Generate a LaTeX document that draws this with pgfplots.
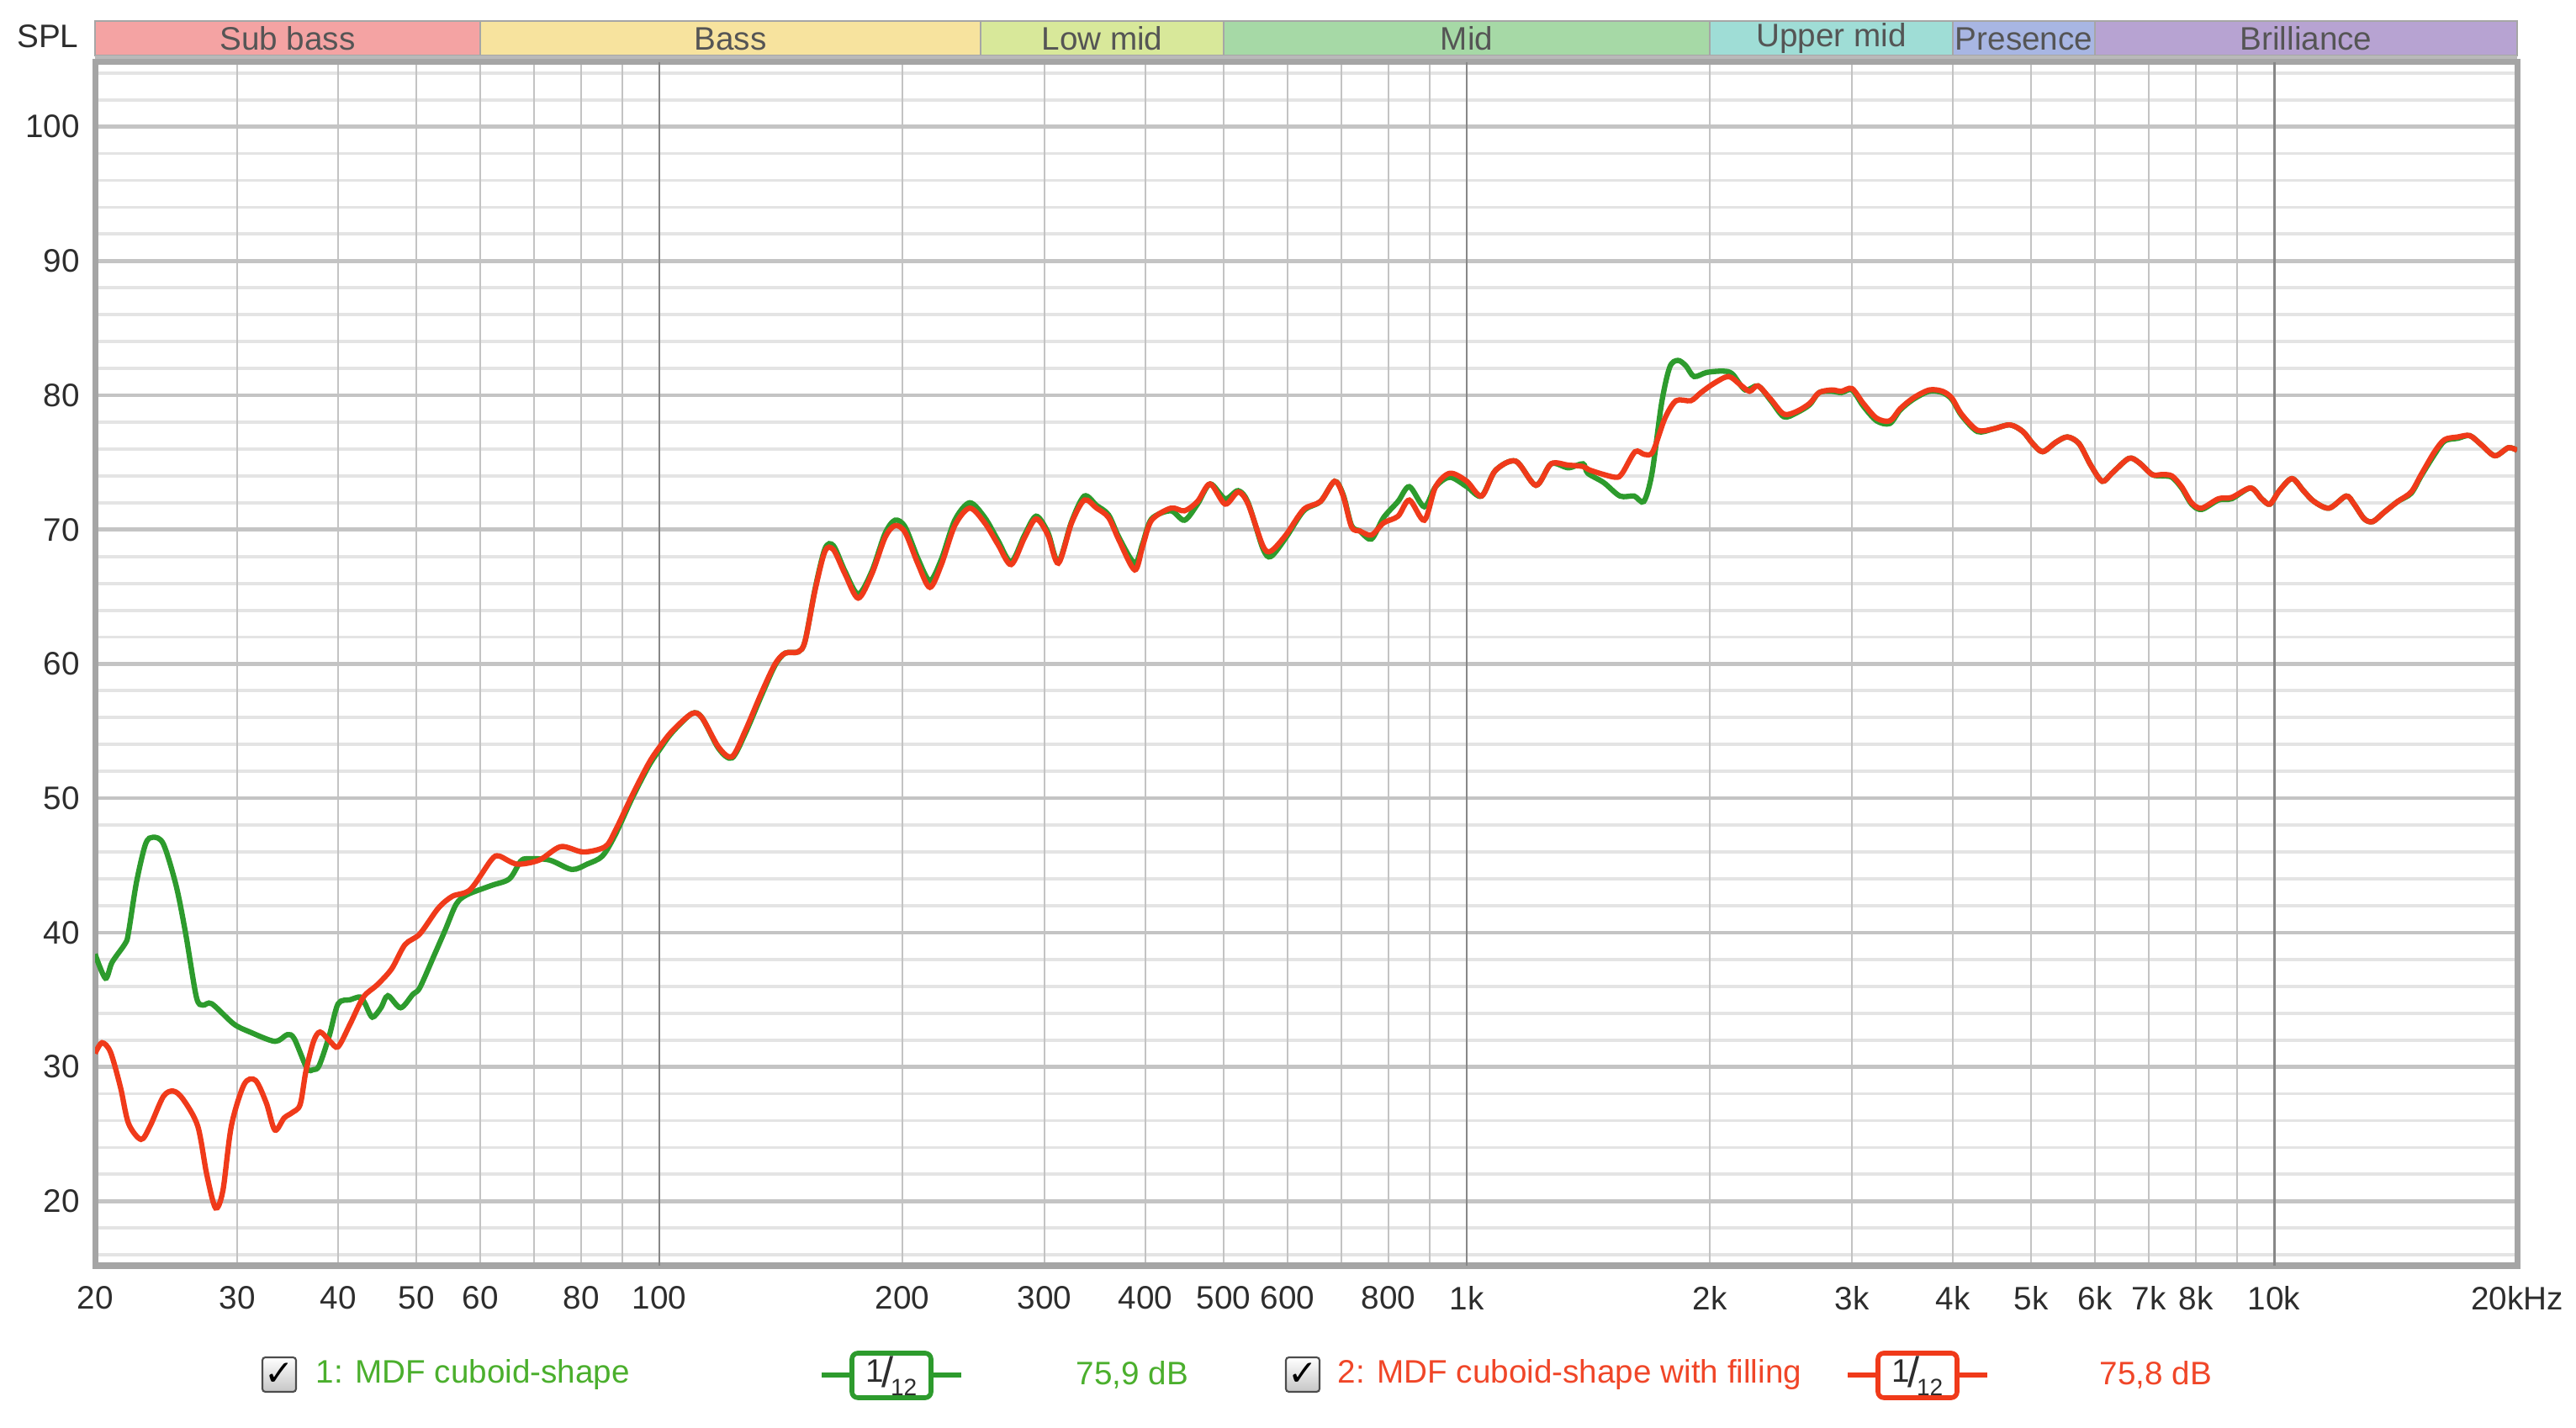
\documentclass[border=0pt]{standalone}
\usepackage{fontspec}
\setmainfont{Liberation Sans}
\newfontfamily\symfont{DejaVu Sans}
\usepackage{pgfplots}
\pgfplotsset{compat=1.18}

\definecolor{cgreen}{RGB}{45,155,45}
\definecolor{cred}{RGB}{240,58,26}
\definecolor{tgreen}{RGB}{75,175,45}
\definecolor{tred}{RGB}{240,70,40}
\definecolor{gridminh}{RGB}{228,228,228}
\definecolor{gridmajh}{RGB}{196,196,196}
\definecolor{gridv}{RGB}{195,195,195}
\definecolor{griddec}{RGB}{135,135,135}
\definecolor{frame}{RGB}{165,165,165}
\definecolor{txt}{RGB}{45,45,45}
\definecolor{bandtxt}{RGB}{85,85,85}
\definecolor{bSub}{RGB}{244,163,163}
\definecolor{bBass}{RGB}{247,227,158}
\definecolor{bLow}{RGB}{216,232,154}
\definecolor{bMid}{RGB}{166,217,166}
\definecolor{bUpper}{RGB}{159,221,214}
\definecolor{bPres}{RGB}{168,182,227}
\definecolor{bBril}{RGB}{183,163,210}

\begin{document}
\begin{tikzpicture}[x=1cm,y=1cm]
\useasboundingbox (0,0) rectangle (30.63,16.98);

% horizontal grid and dB labels
\begin{axis}[
  at={(1.13cm,1.93cm)}, anchor=south west,
  width=28.8cm, height=14.31cm, scale only axis,
  xmode=log, xmin=20, xmax=20000, ymin=15.2, ymax=104.8,
  major tick length=0pt, minor tick length=0pt,
  /pgf/number format/assume math mode=true,
  tick label style={font=\fontsize{11}{13}\selectfont, text=txt},
  xtick=\empty,
  ytick={20,30,40,50,60,70,80,90,100},
  minor ytick={16,18,22,24,26,28,32,34,36,38,42,44,46,48,52,54,56,58,62,64,66,68,72,74,76,78,82,84,86,88,92,94,96,98,102,104},
  ymajorgrids, yminorgrids,
  major grid style={draw=gridmajh, line width=1.3pt},
  minor grid style={draw=gridminh, line width=1.1pt},
  axis line style={draw=none},
  yticklabel style={anchor=east, xshift=-0.06cm},
]
\addplot[draw=none] coordinates {(20,50) (20000,50)};
\end{axis}

% vertical grid, frequency labels and curves
\begin{axis}[
  at={(1.13cm,1.93cm)}, anchor=south west,
  width=28.8cm, height=14.31cm, scale only axis,
  xmode=log, xmin=20, xmax=20000, ymin=15.2, ymax=104.8,
  major tick length=0pt, minor tick length=0pt,
  /pgf/number format/assume math mode=true,
  tick label style={font=\fontsize{11}{13}\selectfont, text=txt},
  ytick=\empty,
  xtick={20,30,40,50,60,70,80,90,200,300,400,500,600,700,800,900,2000,3000,4000,5000,6000,7000,8000,9000,20000},
  xticklabels={20,30,40,50,60,,80,,200,300,400,500,600,,800,,2k,3k,4k,5k,6k,7k,8k,,20kHz},
  extra x ticks={100,1000,10000},
  extra x tick labels={100,1k,10k},
  extra x tick style={major grid style={draw=griddec, line width=0.8pt}},
  xmajorgrids,
  major grid style={draw=gridv, line width=0.65pt},
  axis line style={draw=frame, line width=2pt},
  xticklabel style={yshift=-0.12cm},
]
% 1: MDF cuboid-shape
\addplot[cgreen, line width=1.8pt, smooth, tension=0.5] coordinates {
(20,38.4) (20.6,36.6) (21.0,37.8) (21.8,39.2) (22.0,40.0) (22.5,43.7) (23.1,46.6) (23.6,47.1)
(24.3,46.6) (25.2,43.5) (25.9,39.9) (26.7,35.2) (27.2,34.6) (27.9,34.7) (29.7,33.2) (31.1,32.6)
(33.4,31.9) (34.6,32.4) (35.3,32.1) (36.6,29.9) (37.3,29.8) (37.9,30.1) (39.0,32.3) (40.0,34.7)
(41.4,35.0) (42.6,35.2) (43.2,34.7) (44.1,33.7) (45.2,34.4) (46.1,35.3) (47.8,34.4) (49.5,35.4)
(50.5,35.9) (52.6,38.3) (54.3,40.2) (56.0,42.1) (57.7,42.8) (61.9,43.5) (65.2,44.0) (67.3,45.3)
(68.7,45.5) (73.1,45.4) (77.9,44.7) (81.4,45.1) (85,45.7) (88.2,47.3) (92.5,50.0) (97.0,52.4)
(100,53.6) (103.7,54.9) (109.7,56.3) (112.9,56.0) (118.4,53.7) (123,53.0) (127.7,54.8) (133.9,57.7)
(139.1,59.9) (143.1,60.8) (148.6,60.9) (151.5,61.7) (155.9,65.6) (160.4,68.6) (164.3,68.8) (169.8,66.9)
(176.3,65.2) (183.3,66.9) (190.3,69.7) (195.8,70.7) (201.5,70.2) (209.2,67.8) (216.3,66.2) (223.5,67.8)
(232.2,70.7) (242.3,72.0) (252.9,70.9) (262.6,69.2) (272.7,67.6) (283.3,69.6) (292.8,71.0) (302.8,69.8)
(312,67.6) (324,70.6) (336,72.5) (348,71.8) (360,71.1) (371,69.4) (388,67.5) (397,69.0)
(407,70.8) (430,71.4) (447,70.7) (464,71.9) (481,73.4) (502,72.3) (521,72.9) (536,72.0)
(559,68.6) (572,68.0) (597,69.4) (628,71.4) (659,72.1) (686,73.6) (703,72.6) (720,70.3)
(737,69.9) (762,69.3) (789,70.9) (822,72.1) (849,73.2) (886,71.7) (915,73.2) (953,73.9)
(1000,73.2) (1043,72.5) (1085,74.4) (1150,75.1) (1218,73.3) (1272,74.9) (1336,74.6) (1393,74.9)
(1412,74.2) (1478,73.5) (1548,72.5) (1612,72.5) (1657,72.1) (1696,74.2) (1743,79.4) (1784,82.1)
(1826,82.6) (1868,82.2) (1912,81.4) (1982,81.7) (2075,81.8) (2132,81.6) (2212,80.4) (2295,80.7)
(2380,79.6) (2470,78.4) (2562,78.7) (2659,79.3) (2731,80.2) (2832,80.3) (2910,80.2) (3000,80.4)
(3098,79.2) (3218,78.1) (3342,77.9) (3442,78.9) (3573,79.7) (3740,80.3) (3883,80.2) (3988,79.7)
(4100,78.5) (4291,77.3) (4490,77.5) (4707,77.8) (4885,77.3) (5024,76.4) (5168,75.8) (5365,76.5)
(5545,76.9) (5733,76.4) (5927,74.8) (6124,73.6) (6297,74.2) (6606,75.3) (6799,75.0) (7062,74.1)
(7262,74.0) (7470,73.9) (7682,73.1) (7902,71.9) (8131,71.5) (8531,72.2) (8860,72.3) (9349,73.1)
(9649,72.3) (9880,71.9) (10150,72.9) (10520,73.8) (10870,72.9) (11200,72.1) (11700,71.6) (12280,72.5)
(12560,71.9) (12930,70.8) (13250,70.6) (13690,71.3) (14230,72.1) (14780,72.7) (15210,74.0) (15800,75.6)
(16260,76.6) (16890,76.8) (17470,77.0) (18070,76.3) (18770,75.5) (19510,76.1) (20000,75.9)
};
% 2: MDF cuboid-shape with filling
\addplot[cred, line width=1.8pt, smooth, tension=0.5] coordinates {
(20,31.0) (20.4,31.8) (20.9,31.1) (21.5,28.5) (22.0,25.8) (22.8,24.6) (23.4,25.6) (24.3,27.8)
(25.0,28.2) (25.7,27.6) (26.8,25.6) (27.5,22.0) (28.2,19.5) (28.8,20.8) (29.5,25.6) (30.6,28.7)
(31.6,29.0) (32.6,27.3) (33.4,25.3) (34.3,26.2) (35.1,26.6) (35.9,27.2) (36.5,29.7) (37.3,31.9)
(38.0,32.6) (39.1,31.9) (40.0,31.5) (41.4,33.2) (43.0,35.2) (44.7,36.1) (46.6,37.3) (48.4,39.1)
(50.5,39.9) (53.2,41.8) (55.4,42.7) (58.3,43.2) (61.9,45.4) (63.3,45.7) (66.6,45.1) (71.0,45.4)
(75.5,46.4) (80.5,46.0) (85.7,46.4) (88.2,47.6) (92.5,50.2) (97.0,52.6) (100,53.8) (103.7,55.0)
(109.7,56.3) (112.9,56.0) (118.4,53.8) (123,53.1) (127.7,55.0) (133.9,57.9) (139.1,60.0) (143.1,60.8)
(148.6,60.9) (151.5,61.7) (155.9,65.5) (160.4,68.4) (164.3,68.5) (169.8,66.7) (176.3,64.9) (183.3,66.7)
(190.3,69.4) (195.8,70.3) (201.5,69.8) (209.2,67.4) (216.3,65.7) (223.5,67.4) (232.2,70.3) (242.3,71.6)
(252.9,70.5) (262.6,68.9) (272.7,67.4) (283.3,69.4) (292.8,70.8) (302.8,69.6) (312,67.5) (324,70.5)
(336,72.2) (348,71.6) (360,70.9) (371,69.2) (388,67.0) (397,68.8) (407,70.7) (430,71.6)
(447,71.4) (464,72.1) (481,73.4) (502,71.9) (521,72.8) (536,71.9) (559,68.8) (572,68.4)
(597,69.6) (628,71.5) (659,72.1) (686,73.6) (703,72.5) (720,70.2) (737,69.9) (762,69.6)
(789,70.5) (822,71.0) (849,72.2) (886,70.7) (915,73.2) (953,74.2) (1000,73.6) (1043,72.5)
(1085,74.4) (1150,75.1) (1218,73.3) (1272,74.9) (1336,74.8) (1393,74.7) (1425,74.4) (1526,73.9)
(1558,74.2) (1616,75.8) (1660,75.6) (1700,75.8) (1760,78.3) (1817,79.6) (1895,79.6) (1950,80.2)
(2025,80.9) (2110,81.4) (2180,80.8) (2240,80.3) (2295,80.7) (2380,79.7) (2470,78.6) (2562,78.8)
(2659,79.4) (2731,80.2) (2832,80.4) (2910,80.3) (3000,80.5) (3098,79.4) (3218,78.3) (3342,78.1)
(3442,79.0) (3573,79.8) (3740,80.4) (3883,80.3) (3988,79.8) (4100,78.6) (4291,77.4) (4490,77.5)
(4707,77.8) (4885,77.3) (5024,76.4) (5168,75.8) (5365,76.5) (5545,76.9) (5733,76.4) (5927,74.8)
(6124,73.6) (6297,74.2) (6606,75.3) (6799,75.0) (7062,74.1) (7262,74.1) (7470,74.0) (7682,73.2)
(7902,72.0) (8131,71.6) (8531,72.3) (8860,72.4) (9349,73.1) (9649,72.3) (9880,71.9) (10150,72.9)
(10520,73.8) (10870,72.9) (11200,72.1) (11700,71.6) (12280,72.5) (12560,71.9) (12930,70.8) (13250,70.6)
(13690,71.3) (14230,72.1) (14780,72.8) (15210,74.1) (15800,75.8) (16260,76.7) (16890,76.9) (17470,77.0)
(18070,76.3) (18770,75.5) (19510,76.1) (20000,75.9)
};
\end{axis}

% frequency band strip
\foreach \a/\b/\c/\t in {1.13/5.71/bSub/Sub bass, 5.71/11.66/bBass/Bass, 11.66/14.55/bLow/Low mid,
  14.55/20.33/bMid/Mid, 20.33/23.22/bUpper/Upper mid, 23.22/24.91/bPres/Presence, 24.91/29.93/bBril/Brilliance}{
  \fill[\c] (\a,16.32) rectangle (\b,16.73);
  \draw[gray!70, line width=0.6pt] (\a,16.32) rectangle (\b,16.73);
  \node[text=bandtxt, font=\fontsize{11}{13}\selectfont] at ({(\a+\b)/2},16.52) {\t};
}
\draw[gray!55, line width=1.2pt] (1.13,16.30) -- (29.93,16.30);
\node[anchor=east, inner sep=0pt, text=txt, font=\fontsize{11}{13}\selectfont] at (0.94,16.55) {SPL};

% legend row
\foreach \cx in {3.32,15.49}{
  \shade[top color=white, bottom color=gray!45, draw=gray!60!black, line width=0.6pt, rounded corners=1pt]
    (\cx-0.2,0.43) rectangle (\cx+0.2,0.84);
  \node[inner sep=0pt, font=\symfont\bfseries\fontsize{12}{14}\selectfont] at (\cx,0.64) {✓};
}
\node[anchor=west, inner sep=0pt, text=tgreen, font=\fontsize{11}{13}\selectfont] at (3.75,0.63) {1: MDF cuboid-shape};
\node[anchor=west, inner sep=0pt, text=tred, font=\fontsize{11}{13}\selectfont] at (15.90,0.63) {2: MDF cuboid-shape with filling};
\node[anchor=west, inner sep=0pt, text=tgreen, font=\fontsize{11}{13}\selectfont] at (12.79,0.63) {75,9 dB};
\node[anchor=west, inner sep=0pt, text=tred, font=\fontsize{11}{13}\selectfont] at (24.96,0.63) {75,8 dB};
\foreach \cx/\c in {10.60/cgreen, 22.80/cred}{
  \draw[\c, line width=1.8pt] (\cx-0.83,0.63) -- (\cx+0.83,0.63);
  \draw[\c, fill=white, line width=1.6pt, rounded corners=2pt] (\cx-0.47,0.36) rectangle (\cx+0.47,0.89);
  \node[inner sep=0pt, text=txt, font=\fontsize{11}{13}\selectfont] at (\cx,0.62)
    {\raisebox{0.3ex}{1}\kern-0.08em{\Large /}\kern-0.08em\raisebox{-0.5ex}{\footnotesize 12}};
}
\end{tikzpicture}
\end{document}
